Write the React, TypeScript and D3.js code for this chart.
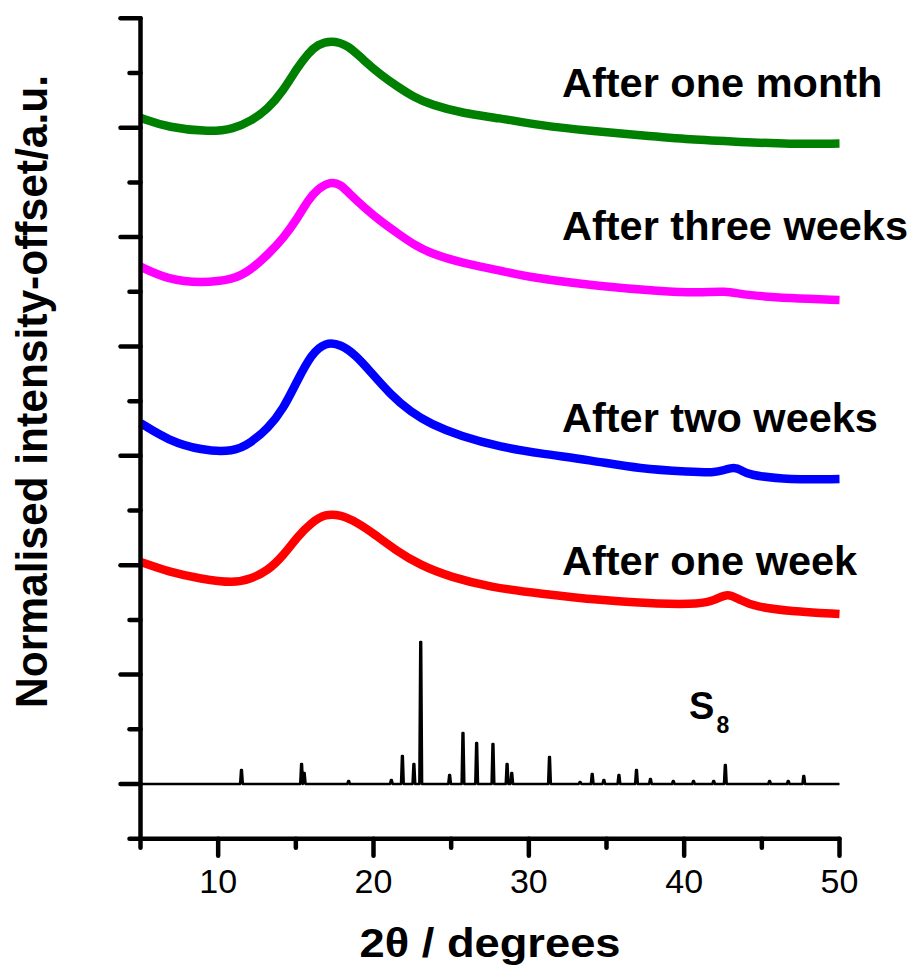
import React from 'react';
import * as d3 from 'd3';

// ---- data ----
const monthTheta = [5.0, 6.8, 9.5, 11.0, 12.1, 13.2, 14.2, 15.1, 15.8, 16.4, 17.25, 18.35, 19.4, 20.5, 21.6, 22.6, 23.7, 25.8, 28.0, 30.75, 34.0, 37.2, 40.4, 43.6, 46.8, 50.0];
const monthInt = [6.09, 6.0, 5.96, 5.99, 6.06, 6.17, 6.34, 6.55, 6.68, 6.76, 6.8, 6.76, 6.61, 6.48, 6.37, 6.28, 6.21, 6.13, 6.09, 6.02, 5.97, 5.93, 5.89, 5.87, 5.85, 5.855];

const threeWeekTheta = [5.0, 6.8, 8.9, 11.0, 12.1, 13.2, 14.2, 15.1, 15.8, 16.4, 17.25, 17.9, 18.35, 19.4, 20.5, 21.6, 22.6, 23.7, 25.8, 28.0, 30.1, 34.6, 38.5, 41.0, 42.65, 43.9, 46.8, 50.0];
const threeWeekInt = [4.73, 4.61, 4.58, 4.61, 4.7, 4.84, 4.99, 5.17, 5.34, 5.44, 5.51, 5.48, 5.41, 5.27, 5.14, 5.03, 4.93, 4.85, 4.76, 4.7, 4.63, 4.55, 4.505, 4.49, 4.51, 4.47, 4.44, 4.425];

const twoWeekTheta = [5.0, 6.8, 8.9, 11.0, 12.1, 13.2, 14.2, 15.1, 16.0, 16.9, 17.9, 18.86, 19.8, 21.1, 22.4, 23.7, 25.6, 28.2, 30.75, 34.0, 37.2, 40.4, 41.9, 42.6, 43.2, 43.7, 44.1, 46.8, 50.0];
const twoWeekInt = [3.3, 3.14, 3.05, 3.035, 3.12, 3.25, 3.43, 3.69, 3.93, 4.04, 4.02, 3.92, 3.77, 3.56, 3.4, 3.29, 3.18, 3.08, 3.02, 2.96, 2.88, 2.855, 2.845, 2.87, 2.9, 2.87, 2.825, 2.78, 2.788];

const oneWeekTheta = [5.0, 6.8, 8.9, 11.0, 12.1, 13.2, 14.2, 15.1, 16.0, 16.9, 17.9, 18.9, 20.1, 21.4, 23.0, 25.0, 27.5, 30.75, 34.6, 38.5, 41.0, 42.0, 42.8, 43.6, 44.6, 46.8, 50.0];
const oneWeekInt = [2.03, 1.94, 1.875, 1.835, 1.875, 1.95, 2.09, 2.26, 2.39, 2.47, 2.46, 2.395, 2.28, 2.14, 2.0, 1.89, 1.8, 1.74, 1.68, 1.645, 1.645, 1.68, 1.75, 1.68, 1.62, 1.58, 1.555];

const s8PeakTheta = [11.5, 15.37, 15.54, 18.4, 21.15, 21.86, 22.6, 23.04, 24.9, 25.76, 26.64, 27.69, 28.6, 28.9, 31.33, 33.3, 34.08, 34.83, 35.8, 36.93, 37.83, 39.3, 40.6, 41.9, 42.65, 45.5, 46.7, 47.7];
const s8PeakHeight = [0.128, 0.183, 0.1, 0.027, 0.037, 0.256, 0.183, 1.298, 0.082, 0.466, 0.375, 0.366, 0.183, 0.1, 0.247, 0.018, 0.091, 0.037, 0.082, 0.128, 0.046, 0.027, 0.027, 0.027, 0.174, 0.027, 0.027, 0.073];

const seriesNames = ['After one month', 'After three weeks', 'After two weeks', 'After one week'];
const seriesColors = ['#008000', '#FF00FF', '#0000FF', '#FF0000'];
const xMajorTicks = [10, 20, 30, 40, 50];
const xMinorTicks = [5, 15, 25, 35, 45];
const yMajorTicks = [0, 1, 2, 3, 4, 5, 6, 7];
const yMinorTicks = [-0.5, 0.5, 1.5, 2.5, 3.5, 4.5, 5.5, 6.5];

const FONT = "Arial, 'Liberation Sans', sans-serif";

export default function App() {
  const W = 912, H = 968;
  const x = d3.scaleLinear().domain([5, 50]).range([140.5, 839.5]);
  const y = d3.scaleLinear().domain([-0.5, 7]).range([838.7, 18.3]);

  const seriesTheta = [monthTheta, threeWeekTheta, twoWeekTheta, oneWeekTheta];
  const seriesInt = [monthInt, threeWeekInt, twoWeekInt, oneWeekInt];

  const line = d3.line<[number, number]>()
    .x(d => x(d[0]))
    .y(d => y(d[1]))
    .curve(d3.curveBasis);

  const s8Pts: [number, number][] = [[5, 0]];
  s8PeakTheta.forEach((p, i) => {
    const h = s8PeakHeight[i];
    s8Pts.push([p - 0.085, 0], [p - 0.025, h], [p + 0.025, h], [p + 0.085, 0]);
  });
  s8Pts.push([50, 0]);
  const s8Line = d3.line<[number, number]>().x(d => x(d[0])).y(d => y(d[1]));

  const labelY = [96.7, 240, 431.7, 575];

  return (
    <svg width={W} height={H} style={{ position: 'absolute', left: 0, top: 0, background: '#fff' }} fontFamily={FONT}>
      <rect width={W} height={H} fill="#fff" />
      {seriesTheta.map((th, k) => (
        <path key={k}
          d={line(th.map((t, i) => [t, seriesInt[k][i]] as [number, number])) || ''}
          fill="none" stroke={seriesColors[k]} strokeWidth={8.5} strokeLinejoin="round" strokeLinecap="butt" />
      ))}
      <path d={s8Line(s8Pts) || ''} fill="none" stroke="#000" strokeWidth={2.6} strokeLinejoin="round" />

      {/* axes */}
      <g stroke="#000" strokeLinecap="round">
        <line x1={x(5)} x2={x(5)} y1={y(-0.5)} y2={y(7)} strokeWidth={4.5} />
        <line x1={x(5)} x2={x(50)} y1={y(-0.5)} y2={y(-0.5)} strokeWidth={4.5} />
        {yMajorTicks.map(v => (
          <line key={'ym' + v} x1={x(5)} x2={x(5) - 20} y1={y(v)} y2={y(v)} strokeWidth={4.5} />
        ))}
        {yMinorTicks.map(v => (
          <line key={'yn' + v} x1={x(5)} x2={x(5) - 11} y1={y(v)} y2={y(v)} strokeWidth={4.5} />
        ))}
        {xMajorTicks.map(v => (
          <line key={'xm' + v} x1={x(v)} x2={x(v)} y1={y(-0.5)} y2={y(-0.5) + 17} strokeWidth={4.5} />
        ))}
        {xMinorTicks.map(v => (
          <line key={'xn' + v} x1={x(v)} x2={x(v)} y1={y(-0.5)} y2={y(-0.5) + 9} strokeWidth={4.5} />
        ))}
      </g>
      {xMajorTicks.map(v => (
        <text key={'xl' + v} x={x(v)} y={892.7} textAnchor="middle" fontSize={34} fill="#000">{v}</text>
      ))}

      <text x={490} y={957} textAnchor="middle" fontSize={41} fontWeight="bold" fill="#000"
        textLength={261} lengthAdjust="spacingAndGlyphs">2θ / degrees</text>
      <text transform="translate(47,391.5) rotate(-90)" textAnchor="middle" fontSize={44} fontWeight="bold" fill="#000"
        textLength={633} lengthAdjust="spacingAndGlyphs">Normalised intensity-offset/a.u.</text>

      {seriesNames.map((n, k) => (
        <text key={n} x={562} y={labelY[k]} fontSize={41.5} fontWeight="bold" fill="#000">{n}</text>
      ))}
      <text x={689} y={719.3} fontSize={38} fontWeight="bold" fill="#000">S</text>
      <text x={716.5} y={732.7} fontSize={23} fontWeight="bold" fill="#000">8</text>
    </svg>
  );
}
